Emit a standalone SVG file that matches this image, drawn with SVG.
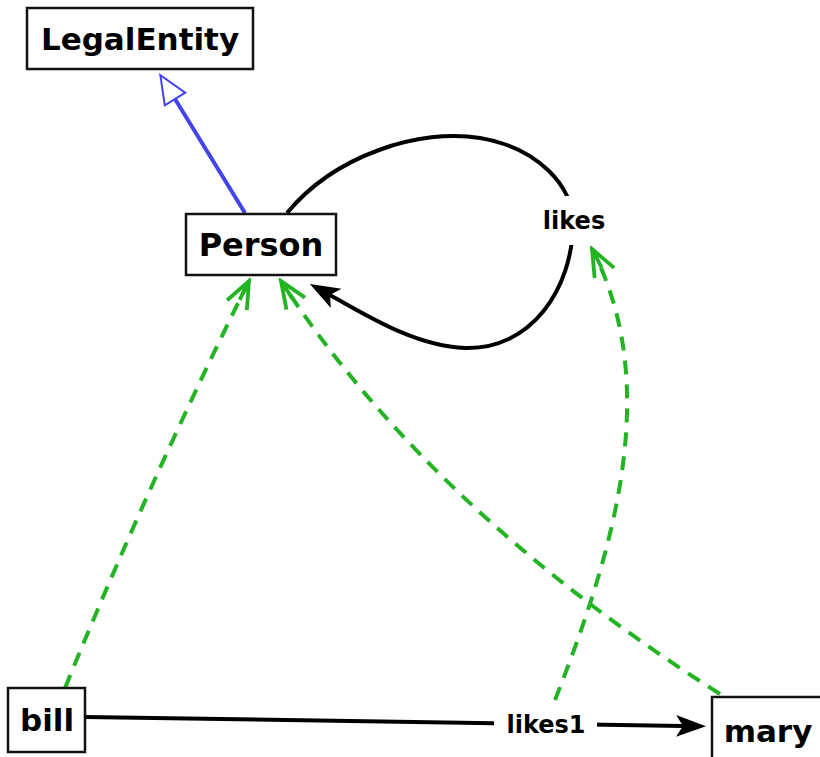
<svg xmlns="http://www.w3.org/2000/svg" width="820" height="757" viewBox="0 0 820 757">
<style>
.box{fill:#fff;stroke:#111;stroke-width:2.5}
.lbl{font-family:"DejaVu Sans",Verdana,sans-serif;font-weight:bold;fill:#000}
.node{font-size:31px}
.elbl{font-size:24px}
.type{fill:none;stroke:#22b422;stroke-width:4;stroke-dasharray:14 10}
.rel{fill:none;stroke:#000;stroke-width:4}
.sub{fill:none;stroke:#4444ee;stroke-width:4}
.bg{fill:#fff}
</style>
<defs>
<marker id="blk" markerUnits="userSpaceOnUse" markerWidth="32" markerHeight="24" viewBox="0 0 32 24" refX="7" refY="12" orient="auto">
<path d="M0,1 L30,12 L0,23 L7,12 z" fill="#000"/>
</marker>
<marker id="tri" markerUnits="userSpaceOnUse" markerWidth="32" markerHeight="28" viewBox="0 0 32 28" refX="2" refY="14" orient="auto">
<path d="M2,2 L30,14 L2,26 z" fill="#fff" stroke="#4444ee" stroke-width="2"/>
</marker>
<marker id="vee" markerUnits="userSpaceOnUse" markerWidth="32" markerHeight="26" viewBox="0 0 32 26" refX="29" refY="13" orient="auto">
<path d="M2,2 L29,13 L2,24 M29,13 L8,13" fill="none" stroke="#22b422" stroke-width="3.8" stroke-linejoin="miter"/>
</marker>
</defs>
<g id="edges">
<path class="sub" d="M245,213 L175,99" marker-end="url(#tri)"/>
<path class="rel" d="M287,213 C335,155 420,128 480,138 C540,148 573,188 573,222 C573,290 530,350 465,348 C415,346 368,316 330,295" marker-end="url(#blk)"/>
<rect class="bg" x="540" y="196" width="68" height="49"/>
<text class="lbl elbl" x="574" y="229" text-anchor="middle">likes</text>
<path class="rel" d="M85,717 L683,726" marker-end="url(#blk)"/>
<rect class="bg" x="494" y="709" width="103" height="34"/>
<text class="lbl elbl" x="546" y="733" text-anchor="middle">likes1</text>
<path class="type" d="M65,688 Q150,480 249,281" marker-end="url(#vee)"/>
<path class="type" d="M720,694 Q430,510 281,281" marker-end="url(#vee)"/>
<path class="type" d="M555,700 C610,560 665,390 592,249" marker-end="url(#vee)"/>
</g>
<g id="LegalEntity">
<rect class="box" x="27" y="8" width="226" height="61"/>
<text class="lbl node" x="140" y="50" text-anchor="middle">LegalEntity</text>
</g>
<g id="Person">
<rect class="box" x="186" y="214" width="150" height="61"/>
<text class="lbl node" x="261" y="256" text-anchor="middle" style="font-size:32px">Person</text>
</g>
<g id="bill">
<rect class="box" x="8" y="688" width="77" height="64"/>
<text class="lbl node" x="47" y="731" text-anchor="middle">bill</text>
</g>
<g id="mary">
<rect class="box" x="712" y="697" width="130" height="80"/>
<text class="lbl node" x="768" y="742" text-anchor="middle">mary</text>
</g>
</svg>
